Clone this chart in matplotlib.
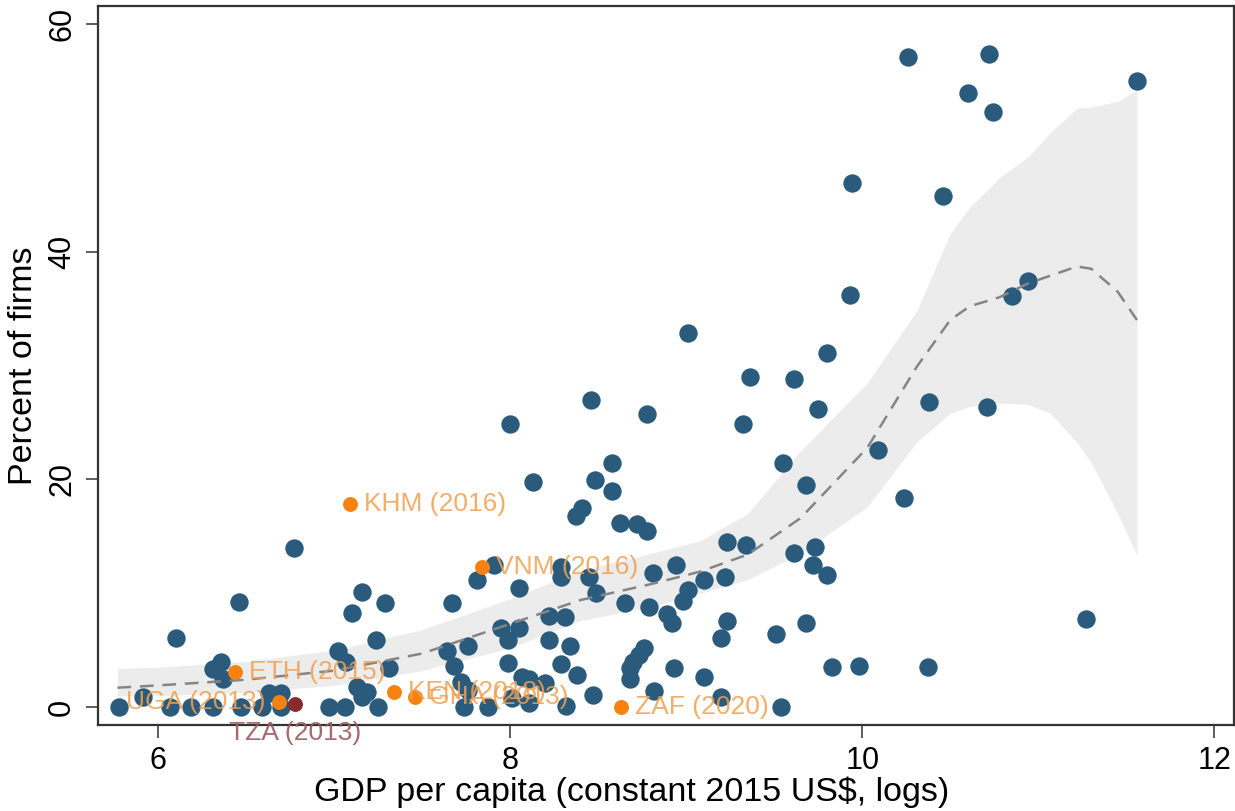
import matplotlib
matplotlib.use("Agg")
import matplotlib.pyplot as plt

plt.rcParams['font.family'] = ['Liberation Sans', 'DejaVu Sans']

# Log GDP per capita vs. percent of firms, all surveyed countries
gdp_log = [
    11.56, 10.26, 10.72, 10.60, 10.74, 9.94, 10.46, 9.93, 10.94, 10.85,
    9.01, 9.80, 9.36, 9.61, 9.75, 9.32, 10.38, 10.71, 9.55, 10.09,
    9.68, 10.24, 9.23, 9.34, 9.61, 9.73, 9.72, 9.80, 9.10, 9.22,
    9.23, 9.20, 9.51, 9.68, 11.27, 9.83, 9.98, 10.375, 9.10, 9.20,
    9.54, 8.46, 8.78, 8.00, 8.58, 8.13, 8.48, 8.58, 8.41, 8.375,
    8.625, 8.72, 8.78, 7.91, 7.81, 8.05, 8.29, 8.29, 8.45, 8.81,
    8.94, 8.49, 8.65, 8.79, 8.89, 8.92, 9.01, 8.98, 7.67, 8.22,
    8.31, 7.95, 8.05, 7.99, 8.22, 8.34, 7.99, 8.29, 8.38, 8.07,
    8.11, 8.20, 8.47, 8.32, 8.11, 8.76, 8.73, 8.70, 8.68, 8.68,
    8.93, 8.82, 7.16, 7.29, 7.10, 7.24, 7.02, 7.07, 7.31, 7.64,
    7.68, 7.76, 7.72, 7.76, 7.74, 7.875, 7.13, 7.19, 7.16, 7.25,
    6.97, 7.06, 6.63, 6.70, 6.77, 6.46, 6.10, 6.36, 6.31, 6.37,
    5.78, 5.915, 6.07, 6.19, 6.31, 6.47, 6.59, 6.70, 8.01,
]
pct_firms = [
    55.0, 57.1, 57.4, 53.9, 52.3, 46.0, 44.9, 36.2, 37.4, 36.1,
    32.9, 31.1, 29.0, 28.8, 26.2, 24.9, 26.8, 26.4, 21.4, 22.6,
    19.5, 18.4, 14.5, 14.2, 13.5, 14.1, 12.5, 11.6, 11.2, 11.4,
    7.6, 6.1, 6.4, 7.4, 7.7, 3.5, 3.6, 3.5, 2.6, 0.9,
    0.0, 27.0, 25.7, 24.9, 21.4, 19.8, 19.9, 19.0, 17.5, 16.8,
    16.2, 16.1, 15.5, 12.5, 11.2, 10.5, 12.3, 11.4, 11.4, 11.8,
    12.5, 10.0, 9.1, 8.8, 8.2, 7.4, 10.3, 9.3, 9.1, 8.0,
    7.9, 6.9, 6.9, 5.9, 5.9, 5.4, 3.9, 3.8, 2.8, 2.6,
    2.5, 2.1, 1.1, 0.1, 0.35, 5.2, 4.6, 4.0, 3.4, 2.5,
    3.4, 1.4, 10.1, 9.1, 8.3, 5.9, 4.9, 4.0, 3.4, 4.9,
    3.6, 5.4, 2.2, 1.5, 0.0, 0.0, 1.8, 1.3, 0.9, 0.0,
    0.0, 0.0, 1.2, 1.2, 14.0, 9.2, 6.1, 4.0, 3.3, 2.5,
    0.0, 0.9, 0.0, 0.0, 0.0, 0.0, 0.0, 0.0, 0.8,
]

# Highlighted countries (survey year in the label)
hl_codes = ["KHM", "VNM", "ETH", "KEN", "GHA", "UGA", "ZAF"]
hl_years = [2016, 2016, 2015, 2018, 2013, 2013, 2020]
hl_gdp = [7.09, 7.84, 6.44, 7.34, 7.46, 6.69, 8.63]
hl_pct = [17.8, 12.3, 3.1, 1.3, 0.9, 0.45, 0.0]
hl_side = ["right", "right", "right", "right", "right", "left", "right"]

focus_code = "TZA"
focus_year = 2013
focus_gdp = 6.78
focus_pct = 0.3

# Local polynomial fit with 95% confidence band
fit_x = [5.77, 6.0, 6.5, 7.0, 7.5, 8.0, 8.4, 8.8, 9.08, 9.35, 9.65, 10.03,
         10.31, 10.50, 10.61, 10.78, 10.94, 11.07, 11.22, 11.30, 11.45, 11.56]
fit_y = [1.7, 1.9, 2.4, 3.2, 4.7, 7.3, 9.4, 10.8, 11.9, 13.4, 16.6, 22.8,
         29.9, 34.0, 35.2, 36.0, 37.2, 37.9, 38.7, 38.5, 36.5, 34.0]
ci_hi = [3.4, 3.5, 4.0, 5.0, 6.8, 9.5, 12.0, 13.5, 14.6, 17.0, 22.5, 28.5,
         34.8, 41.6, 43.9, 46.5, 48.3, 50.5, 52.6, 52.7, 53.2, 54.2]
ci_lo = [1.0, 1.0, 1.3, 1.9, 3.2, 5.2, 7.6, 8.8, 10.0, 11.2, 13.5, 17.6,
         23.3, 25.8, 26.4, 26.7, 26.6, 25.8, 23.2, 21.5, 17.0, 13.3]

navy = '#2b5b7c'
orange = '#f7820f'
label_orange = '#f0a050'
maroon = '#8b2a2e'
label_maroon = '#9c5a5e'

fig = plt.figure(figsize=(12.35, 8.11), dpi=100)
ax = fig.add_axes([0.0794, 0.106, 0.9196, 0.8866])

ax.fill_between(fit_x, ci_lo, ci_hi, color='#ececec', lw=0, zorder=1)
ax.plot(fit_x, fit_y, color='#858585', lw=1.8, ls=(0, (5.5, 3.5)), zorder=4)

ax.scatter(gdp_log, pct_firms, s=175, color=navy, lw=0, zorder=3)
ax.scatter(hl_gdp, hl_pct, s=115, color=orange, lw=0, zorder=5)
ax.scatter([focus_gdp], [focus_pct], s=115, color=maroon, lw=0, zorder=5)

for code, yr, x, y, side in zip(hl_codes, hl_years, hl_gdp, hl_pct, hl_side):
    dx = 10 if side == "right" else -10
    ax.annotate(f"{code} ({yr})", (x, y), xytext=(dx, 0), textcoords='offset points',
                ha='left' if side == "right" else 'right', va='center',
                fontsize=19, color=label_orange, alpha=0.85, zorder=6)
ax.annotate(f"{focus_code} ({focus_year})", (focus_gdp, focus_pct), xytext=(0, -21),
            textcoords='offset points', ha='center', va='center',
            fontsize=19, color=label_maroon, alpha=0.9, zorder=6, annotation_clip=False)

ax.set_xlim(5.66, 12.11)
ax.set_ylim(-1.58, 61.58)
ax.set_xticks([6, 8, 10, 12])
ax.set_yticks([0, 20, 40, 60])
ax.tick_params(axis='both', direction='out', length=9, width=1.1, color='#333333',
               labelsize=22, pad=6)
for lab in ax.get_yticklabels():
    lab.set_rotation(90)
    lab.set_va('center')
for sp in ax.spines.values():
    sp.set_linewidth(1.6)
    sp.set_color('#333333')

ax.set_xlabel("GDP per capita (constant 2015 US$, logs)", fontsize=24.5)
ax.xaxis.label.set_va('baseline')
ax.xaxis.set_label_coords(0.47, -0.106)
ax.set_ylabel("Percent of firms", fontsize=24.5, labelpad=6)

fig.savefig("out.png", dpi=100)
